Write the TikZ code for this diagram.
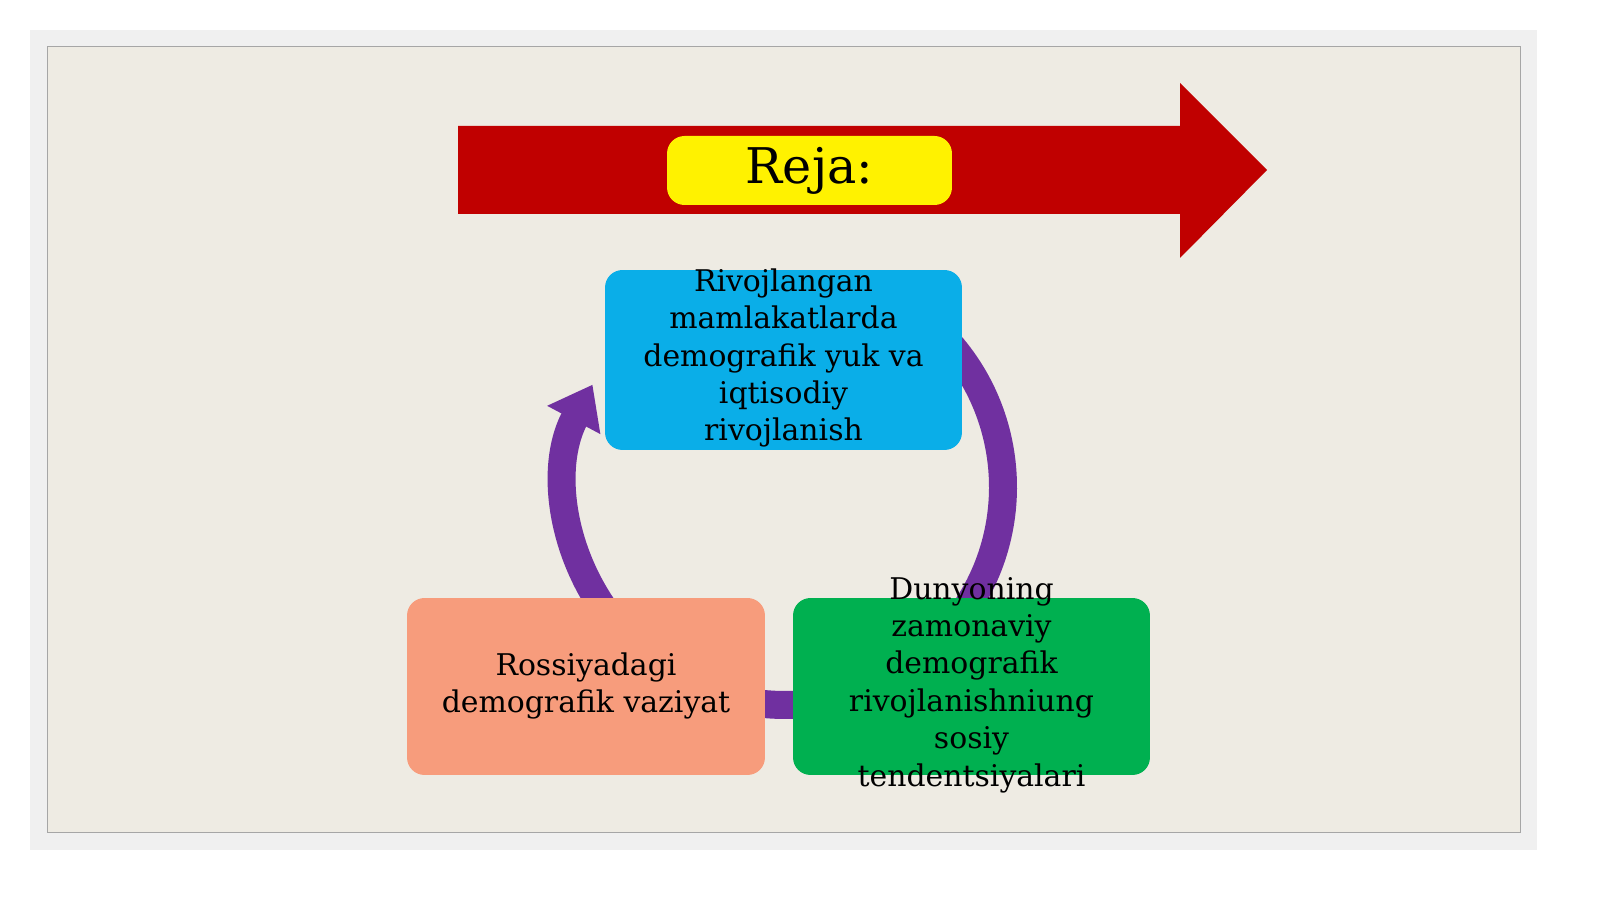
\documentclass[tikz,border=0pt]{standalone}
\usepackage{fontspec}
\setmainfont{DejaVu Serif}
\usetikzlibrary{arrows.meta,calc}
\definecolor{bgc}{HTML}{EEEBE3}
\definecolor{arrred}{HTML}{C00000}
\definecolor{ringc}{HTML}{7030A0}
\definecolor{bluec}{HTML}{0AAEE8}
\definecolor{salmc}{HTML}{F79C7C}
\definecolor{greenc}{HTML}{00B050}
\begin{document}
\begin{tikzpicture}[x=0.02cm,y=0.02cm,
  box/.style={rounded corners=0.35cm,inner sep=0pt},
  txt/.style={align=center,font=\fontsize{17}{21.3}\selectfont,inner sep=0pt},
]
\useasboundingbox (0,0) rectangle (1600,899);
\fill[white] (0,0) rectangle (1600,899);
\fill[gray!12] (30,49) rectangle (1537,869);
\draw[gray!70,fill=bgc,line width=0.02cm] (47,66) rectangle (1520,852);
% arrow
\fill[arrred] (458,685) -- (1180,685) -- (1180,816) -- (1267,729) -- (1180,641) -- (1180,773) -- (458,773) -- cycle;
\node[box,fill=yellow,minimum width=5.7cm,minimum height=1.38cm,font=\fontsize{28}{32}\selectfont] (reja) at (809.5,728.5) {Reja:};
% ring
\coordinate (c) at (785,412);
\draw[ringc,line width=0.56cm,-{Triangle[width=1.15cm,length=0.8cm]}] ($(c)+(50:218)$) arc[start angle=50,end angle=-208,radius=218] coordinate (tip);
% boxes
\node[box,fill=bluec,minimum width=7.14cm,minimum height=3.6cm] (b1) at (783.5,539) {};
\node[txt] (t1) at (783.5,541) {Rivojlangan\\ mamlakatlarda\\ demografik yuk va\\ iqtisodiy\\ rivojlanish};
\node[box,fill=salmc,minimum width=7.16cm,minimum height=3.54cm] (b2) at (586,212.5) {};
\node[txt] (t2) at (586,213) {Rossiyadagi\\ demografik vaziyat};
\node[box,fill=greenc,minimum width=7.14cm,minimum height=3.54cm] (b3) at (971.5,212.5) {};
\node[txt] (t3) at (971.5,214) {Dunyoning\\ zamonaviy\\ demografik\\ rivojlanishniung\\ sosiy\\ tendentsiyalari};
\end{tikzpicture}
\end{document}
